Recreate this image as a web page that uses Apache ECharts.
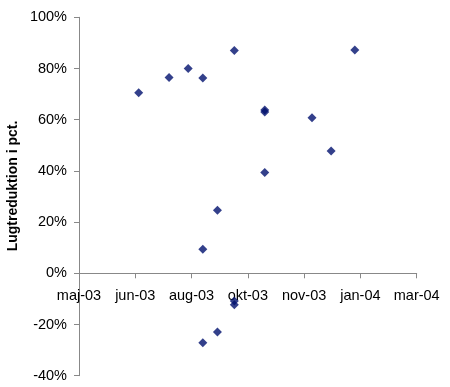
<!DOCTYPE html>
<html><head><meta charset="utf-8">
<script src="https://cdn.jsdelivr.net/npm/echarts@6/dist/echarts.min.js"></script>
<style>html,body{margin:0;padding:0;background:#fff}#c{width:450px;height:387px}</style>
</head><body><div id="c"></div>
<script>
// Measurement dates and odour reduction (fraction)
const dates = ['2003-07-01','2003-07-28','2003-08-14','2003-08-27','2003-09-24','2003-10-21','2003-10-21','2003-10-21','2003-12-02','2003-12-19','2004-01-09','2003-09-09','2003-08-27','2003-09-24','2003-09-24','2003-09-09','2003-08-27'];
const reduction = [0.705,0.765,0.80,0.763,0.87,0.638,0.63,0.394,0.608,0.478,0.872,0.246,0.094,-0.108,-0.123,-0.229,-0.271];
const xTickLabels = ['maj-03','jun-03','aug-03','okt-03','nov-03','jan-04','mar-04'];
const yTitle = 'Lugtreduktion i pct.';
const xMin = 37750, xStep = 50, xMax = 38050; // Excel serial days
const yMin = -0.4, yMax = 1, yStep = 0.2;

function toSerial(s){const [y,m,d]=s.split('-').map(Number);return Math.round((Date.UTC(y,m-1,d)-Date.UTC(1899,11,30))/86400000);}
const data = dates.map((d,i)=>[toSerial(d), reduction[i]]);
const font = 'Liberation Sans, Arial, sans-serif';
const gridTop = 17.3, gridBottom = 11.3, H = 387;
const plotH = H - gridTop - gridBottom;
const zeroOffset = -plotH * (0 - yMin) / (yMax - yMin);
const chart = echarts.init(document.getElementById('c'));
chart.setOption({
  animation:false,
  grid:{left:79,right:33.3,top:gridTop,bottom:gridBottom,containLabel:false,outerBoundsMode:'none'},
  xAxis:{type:'value',min:xMin,max:xMax,interval:xStep,position:'bottom',offset:zeroOffset,
    axisLine:{onZero:false,lineStyle:{color:'#888',width:1}},
    axisTick:{show:true,length:5,lineStyle:{color:'#888'}},
    splitLine:{show:false},
    axisLabel:{margin:15,color:'#000',fontFamily:font,fontSize:14.5,
      formatter:v=>xTickLabels[Math.round((v-xMin)/xStep)]||''}},
  yAxis:{type:'value',min:yMin,max:yMax,interval:yStep,
    axisLine:{show:true,lineStyle:{color:'#888',width:1}},
    axisTick:{show:true,length:5,lineStyle:{color:'#888'}},
    splitLine:{show:false},
    axisLabel:{margin:12,color:'#000',fontFamily:font,fontSize:14.5,
      formatter:v=>Math.round(v*100)+'%'}},
  graphic:[{type:'text',x:13.5,y:186,rotation:Math.PI/2,
    style:{text:yTitle,fontFamily:font,fontSize:14,fontWeight:'bold',fill:'#000',align:'center',verticalAlign:'middle'}}],
  series:[{type:'scatter',data:data,symbol:'diamond',symbolSize:9,
    itemStyle:{color:'#00106e'}}]
});
</script></body></html>
